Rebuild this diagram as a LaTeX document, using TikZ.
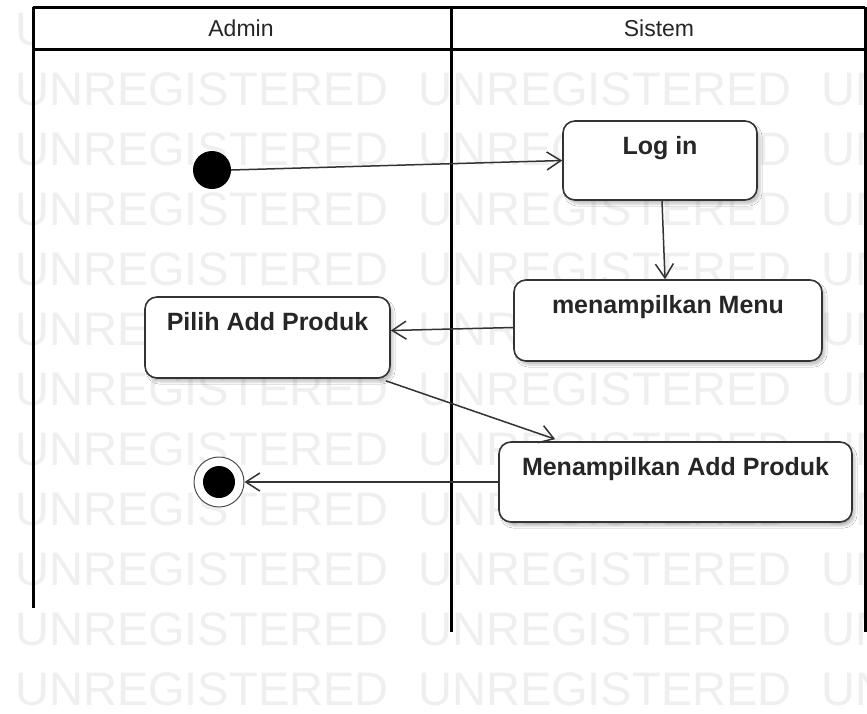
\documentclass[tikz,border=0pt]{standalone}
\usepackage{fontspec}
\setmainfont{Liberation Sans}
\usetikzlibrary{arrows.meta,calc,shadows.blur}

\definecolor{wmgray}{HTML}{EFEFEF}
\definecolor{boxline}{HTML}{333333}

\tikzset{
  lane/.style={line width=3pt, black},
  lanetitle/.style={font=\fontsize{23}{25}\selectfont, text=black!85},
  watermark/.style={anchor=base west, inner sep=0pt, text=wmgray,
    font=\fontsize{47}{50}\selectfont},
  activity/.style={draw=boxline, line width=1.6pt, fill=white,
    rounded corners=12pt, inner sep=0pt,
    blur shadow={shadow xshift=3pt, shadow yshift=-4pt,
      shadow opacity=22, shadow blur steps=6}},
  acttext/.style={anchor=base, yshift=-34pt, inner sep=0pt,
    font=\bfseries\fontsize{25}{27}\selectfont, text=black!85},
  flow/.style={draw=boxline, line width=1.5pt,
    -{Straight Barb[length=14pt, width=18pt, line width=1.5pt]}},
  startnode/.style={circle, fill=black, minimum size=38pt, inner sep=0pt},
  endnode/.style={circle, draw=black!70, line width=1pt, fill=white,
    minimum size=50pt, inner sep=0pt,
    path picture={\fill[black] (path picture bounding box.center) circle (16pt);}}
}

\begin{document}
\begin{tikzpicture}[x=1pt, y=-1pt]
  \useasboundingbox (0,0) rectangle (867,713);
  \fill[white] (0,0) rectangle (867,713);

  % background stamp, tiled in rows and columns
  \foreach \k in {0,...,11} {
    \foreach \j in {0,1,2} {
      \node[watermark] at ({15+403*\j}, {45.5+60*\k}) {UNREGISTERED};
    }
  }

  % swimlane header and lane borders
  \fill[white] (33,7) rectangle (865,49);
  \draw[lane] (33,7) -- (865,7);
  \draw[lane] (33,49) -- (865,49);
  \draw[lane] (33,7) -- (33,608);
  \draw[lane] (451,7) -- (451,632);
  \draw[lane] (865,7) -- (865,632);
  \node[lanetitle] (admin) at (241,28) {Admin};
  \node[lanetitle] (sistem) at (659,28) {Sistem};

  % activities
  \node[activity, minimum width=194pt, minimum height=79pt,
        label={[acttext]north:Log in}] (login) at (660,160.5) {};
  \node[activity, minimum width=308pt, minimum height=81pt,
        label={[acttext]north:menampilkan Menu}] (menu) at (668,320.5) {};
  \node[activity, minimum width=245pt, minimum height=81pt,
        label={[acttext]north:Pilih Add Produk}] (pilih) at (267.5,337.5) {};
  \node[activity, minimum width=353pt, minimum height=80pt,
        label={[acttext]north:Menampilkan Add Produk}] (tampil) at (675.5,482) {};

  % start and end
  \node[startnode] (start) at (212,170) {};
  \node[endnode] (finish) at (219,482) {};

  % control flow
  \draw[flow] (start.east) -- (login.west);
  \draw[flow] ($(login.south)+(2,0)$) -- ($(menu.north)+(-3,0)$);
  \draw[flow] ($(menu.west)+(0,7)$) -- ($(pilih.east)+(0,-7)$);
  \draw[flow] ($(pilih.south east)+(-5,2)$) -- ($(tampil.north west)+(57,-2)$);
  \draw[flow] (tampil.west) -- (finish);
\end{tikzpicture}
\end{document}
